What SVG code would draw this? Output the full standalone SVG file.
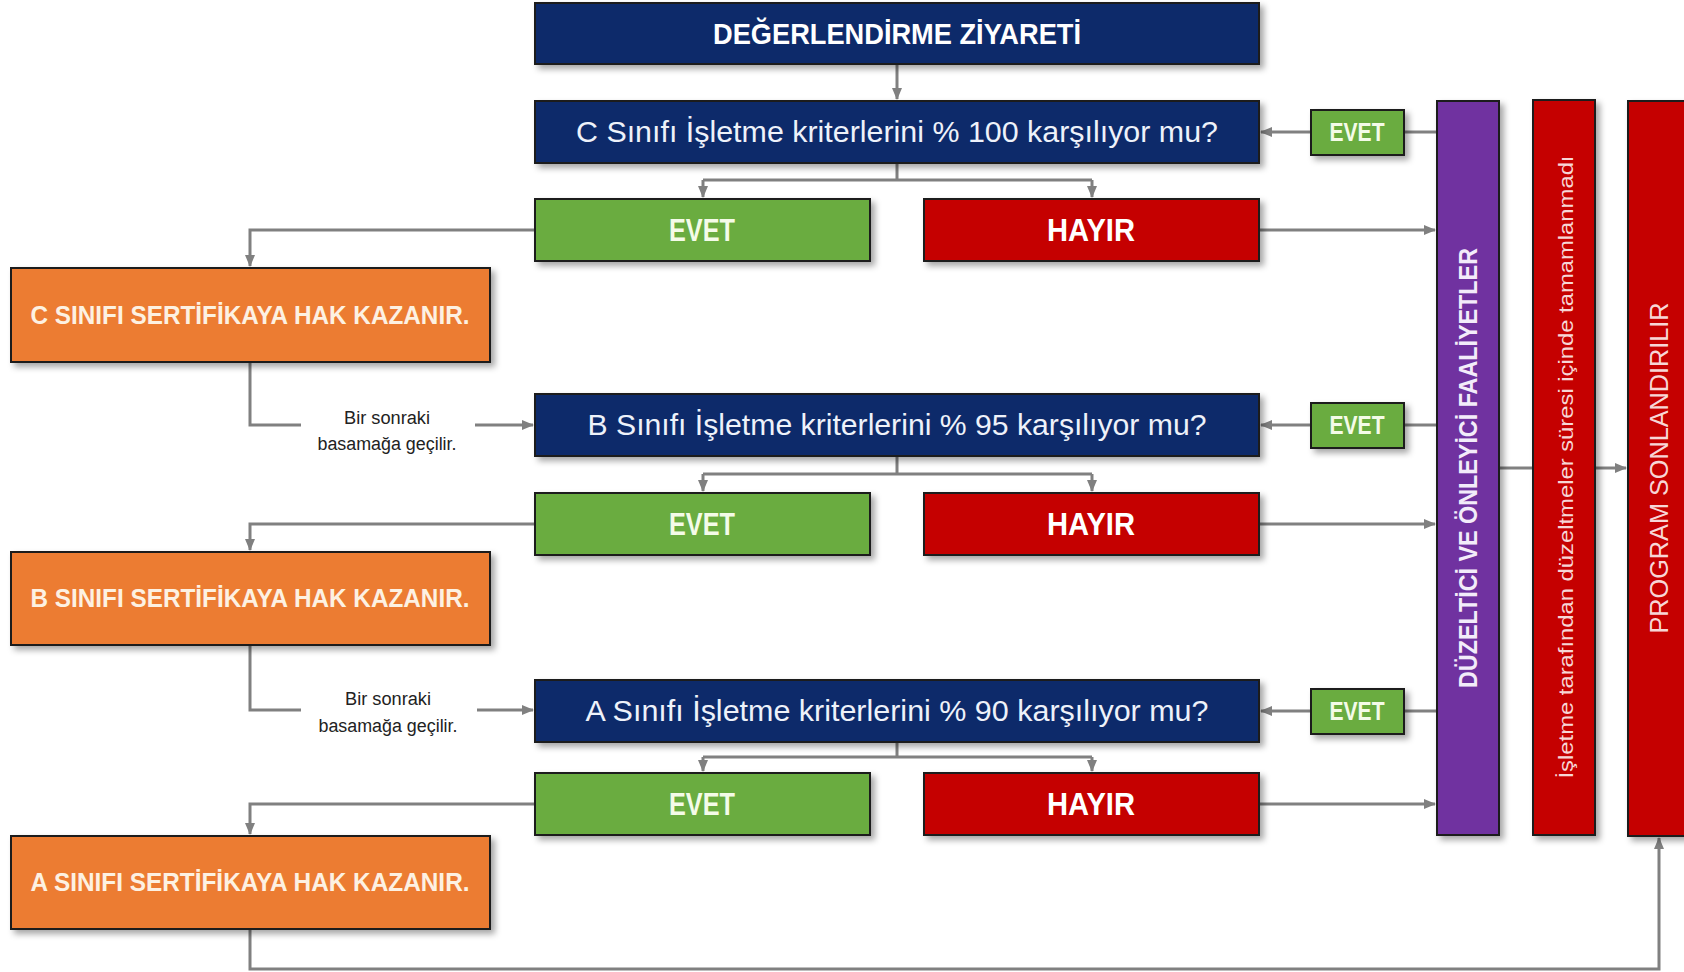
<svg xmlns="http://www.w3.org/2000/svg" width="1684" height="972" viewBox="0 0 1684 972">
<defs>
<filter id="sh" x="-10%" y="-10%" width="130%" height="140%">
<feDropShadow dx="4" dy="4" stdDeviation="3" flood-color="#000" flood-opacity="0.35"/>
</filter>
<marker id="ar" markerWidth="12" markerHeight="10" refX="11" refY="5" orient="auto" markerUnits="userSpaceOnUse">
<path d="M0,0 L12,5 L0,10 Z" fill="#808080"/>
</marker>
</defs>
<style>
.box{stroke:#1a1a1a;stroke-width:2;filter:url(#sh)}
.navy{fill:#0c2a6a}
.green{fill:#6aac3f}
.red{fill:#c50000}
.orange{fill:#ec7c30}
.purple{fill:#7030a0}
.t{font-family:"Liberation Sans",Arial,sans-serif;text-anchor:middle}
.b{font-weight:bold}
.w{fill:#ffffff}
.q{fill:#eef2fa;font-size:29px}
.o{fill:#fdf1e2;font-size:26px;font-weight:bold}
.g{fill:#f4fbe8;font-size:32px;font-weight:bold}
.gs{fill:#f4fbe8;font-size:25px;font-weight:bold}
.note{fill:#222222;font-size:18px}
.c{fill:none;stroke:#808080;stroke-width:3}
.ca{fill:none;stroke:#808080;stroke-width:3;marker-end:url(#ar)}
</style>

<g id="connectors">
<path class="ca" d="M897,64 V99"/>
<path class="c" d="M897,163 V180 M703,180 H1092"/>
<path class="ca" d="M703,180 V197"/>
<path class="ca" d="M1092,180 V197"/>
<path class="c" d="M897,456 V474 M703,474 H1092"/>
<path class="ca" d="M703,474 V491"/>
<path class="ca" d="M1092,474 V491"/>
<path class="c" d="M897,742 V757 M703,757 H1092"/>
<path class="ca" d="M703,757 V771"/>
<path class="ca" d="M1092,757 V771"/>
<path class="ca" d="M535,230 H250 V266"/>
<path class="ca" d="M535,524 H250 V550"/>
<path class="ca" d="M535,804 H250 V834"/>
<path class="c" d="M250,362 V425 H301"/>
<path class="ca" d="M475,425 H533"/>
<path class="c" d="M250,645 V710 H301"/>
<path class="ca" d="M477,710 H533"/>
<path class="ca" d="M250,929 V969 H1659 V838"/>
<path class="c" d="M1437,132 H1404"/>
<path class="ca" d="M1311,132 H1261"/>
<path class="c" d="M1437,425 H1404"/>
<path class="ca" d="M1311,425 H1261"/>
<path class="c" d="M1437,711 H1404"/>
<path class="ca" d="M1311,711 H1261"/>
<path class="ca" d="M1259,230 H1435"/>
<path class="ca" d="M1259,524 H1435"/>
<path class="ca" d="M1259,804 H1435"/>
<path class="c" d="M1499,468 H1533"/>
<path class="ca" d="M1595,468 H1626"/>
</g>

<g id="n-title">
<rect class="box navy" x="535" y="3" width="724" height="61"/>
<text class="t b w" x="897" y="44" font-size="30" textLength="368" lengthAdjust="spacingAndGlyphs">DEĞERLENDİRME ZİYARETİ</text>
</g>

<g id="n-qc">
<rect class="box navy" x="535" y="101" width="724" height="62"/>
<text class="t q" x="897" y="142" textLength="642" lengthAdjust="spacingAndGlyphs">C Sınıfı İşletme kriterlerini % 100 karşılıyor mu?</text>
</g>
<g id="n-evet1">
<rect class="box green" x="535" y="199" width="335" height="62"/>
<text class="t g" x="702" y="241" textLength="66" lengthAdjust="spacingAndGlyphs">EVET</text>
</g>
<g id="n-hayir1">
<rect class="box red" x="924" y="199" width="335" height="62"/>
<text class="t b w" x="1091" y="241" font-size="32" textLength="88" lengthAdjust="spacingAndGlyphs">HAYIR</text>
</g>

<g id="n-qb">
<rect class="box navy" x="535" y="394" width="724" height="62"/>
<text class="t q" x="897" y="435" textLength="619" lengthAdjust="spacingAndGlyphs">B Sınıfı İşletme kriterlerini % 95 karşılıyor mu?</text>
</g>
<g id="n-evet2">
<rect class="box green" x="535" y="493" width="335" height="62"/>
<text class="t g" x="702" y="535" textLength="66" lengthAdjust="spacingAndGlyphs">EVET</text>
</g>
<g id="n-hayir2">
<rect class="box red" x="924" y="493" width="335" height="62"/>
<text class="t b w" x="1091" y="535" font-size="32" textLength="88" lengthAdjust="spacingAndGlyphs">HAYIR</text>
</g>

<g id="n-qa">
<rect class="box navy" x="535" y="680" width="724" height="62"/>
<text class="t q" x="897" y="721" textLength="623" lengthAdjust="spacingAndGlyphs">A Sınıfı İşletme kriterlerini % 90 karşılıyor mu?</text>
</g>
<g id="n-evet3">
<rect class="box green" x="535" y="773" width="335" height="62"/>
<text class="t g" x="702" y="815" textLength="66" lengthAdjust="spacingAndGlyphs">EVET</text>
</g>
<g id="n-hayir3">
<rect class="box red" x="924" y="773" width="335" height="62"/>
<text class="t b w" x="1091" y="815" font-size="32" textLength="88" lengthAdjust="spacingAndGlyphs">HAYIR</text>
</g>

<g id="n-certc">
<rect class="box orange" x="11" y="268" width="479" height="94"/>
<text class="t o" x="250" y="324" textLength="439" lengthAdjust="spacingAndGlyphs">C SINIFI SERTİFİKAYA HAK KAZANIR.</text>
</g>
<g id="n-certb">
<rect class="box orange" x="11" y="552" width="479" height="93"/>
<text class="t o" x="250" y="607" textLength="439" lengthAdjust="spacingAndGlyphs">B SINIFI SERTİFİKAYA HAK KAZANIR.</text>
</g>
<g id="n-certa">
<rect class="box orange" x="11" y="836" width="479" height="93"/>
<text class="t o" x="250" y="891" textLength="439" lengthAdjust="spacingAndGlyphs">A SINIFI SERTİFİKAYA HAK KAZANIR.</text>
</g>

<g id="n-note1">
<text class="t note" x="387" y="424" textLength="86" lengthAdjust="spacingAndGlyphs">Bir sonraki</text>
<text class="t note" x="387" y="450" textLength="139" lengthAdjust="spacingAndGlyphs">basamağa geçilir.</text>
</g>
<g id="n-note2">
<text class="t note" x="388" y="705" textLength="86" lengthAdjust="spacingAndGlyphs">Bir sonraki</text>
<text class="t note" x="388" y="732" textLength="139" lengthAdjust="spacingAndGlyphs">basamağa geçilir.</text>
</g>

<g id="n-evs1">
<rect class="box green" x="1311" y="110" width="93" height="45"/>
<text class="t gs" x="1357" y="141" textLength="55" lengthAdjust="spacingAndGlyphs">EVET</text>
</g>
<g id="n-evs2">
<rect class="box green" x="1311" y="403" width="93" height="45"/>
<text class="t gs" x="1357" y="434" textLength="55" lengthAdjust="spacingAndGlyphs">EVET</text>
</g>
<g id="n-evs3">
<rect class="box green" x="1311" y="689" width="93" height="45"/>
<text class="t gs" x="1357" y="720" textLength="55" lengthAdjust="spacingAndGlyphs">EVET</text>
</g>

<g id="n-duzeltici">
<rect class="box purple" x="1437" y="101" width="62" height="734"/>
<text class="t b" fill="#f3ecfa" font-size="26" x="1468" y="477" transform="rotate(-90 1468 468)" textLength="440" lengthAdjust="spacingAndGlyphs">DÜZELTİCİ VE ÖNLEYİCİ FAALİYETLER</text>
</g>
<g id="n-tamamlanmadi">
<rect class="box red" x="1533" y="100" width="62" height="735"/>
<text class="t" fill="#f7d6d6" font-size="21" x="1565" y="475" transform="rotate(-90 1565 467)" textLength="623" lengthAdjust="spacingAndGlyphs">İşletme tarafından düzeltmeler süresi içinde tamamlanmadı</text>
</g>
<g id="n-program">
<rect class="box red" x="1628" y="101" width="70" height="735"/>
<text class="t" fill="#f7d6d6" font-size="25" x="1659" y="477" transform="rotate(-90 1659 468)" textLength="331" lengthAdjust="spacingAndGlyphs">PROGRAM SONLANDIRILIR</text>
</g>
</svg>
